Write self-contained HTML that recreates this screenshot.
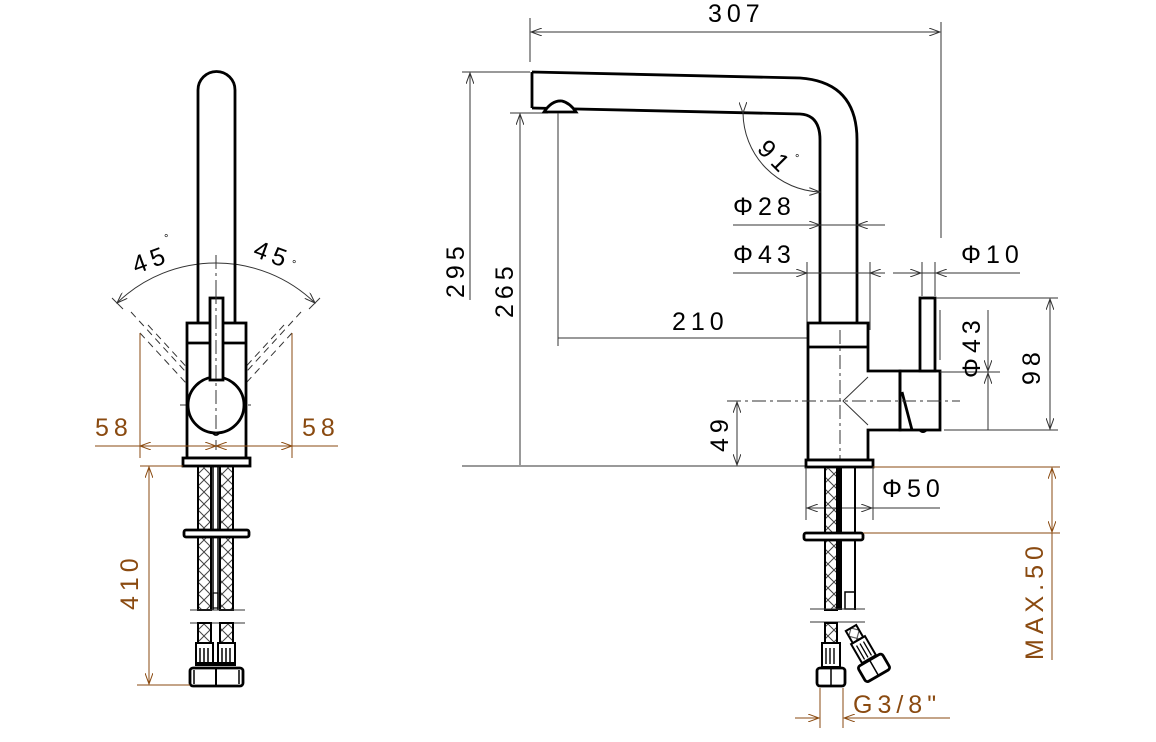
<!DOCTYPE html>
<html><head><meta charset="utf-8"><style>
html,body{margin:0;padding:0;background:#fff;}
svg{display:block;}
text{font-family:"Liberation Sans",sans-serif;font-size:25px;letter-spacing:5px;}
.k{stroke:#000;stroke-width:2.8;fill:none;}
.kf{stroke:#000;stroke-width:2.8;fill:#fff;}
.h{stroke:#000;stroke-width:2;fill:url(#xh);}
.d{stroke:#333;stroke-width:1;fill:none;}
.b{stroke:#8a4a10;stroke-width:1;fill:none;}
.c{stroke:#333;stroke-width:1;fill:none;stroke-dasharray:14 4 3 4;}
.dash{stroke:#333;stroke-width:1;fill:none;stroke-dasharray:7 5;}
.bt{fill:#8a4a10;}
</style></head><body>
<svg width="1156" height="742" viewBox="0 0 1156 742" xmlns="http://www.w3.org/2000/svg">
<defs>
<pattern id="xh" width="12" height="12" patternUnits="userSpaceOnUse">
<path d="M0,0L12,12M12,0L0,12" stroke="#444" stroke-width="1"/>
</pattern>
<marker id="a" markerWidth="12" markerHeight="8" refX="11" refY="4" orient="auto" markerUnits="userSpaceOnUse"><path d="M0,0L11,4L0,8" fill="none" stroke="#333" stroke-width="1"/></marker>
<marker id="ab" markerWidth="12" markerHeight="8" refX="11" refY="4" orient="auto" markerUnits="userSpaceOnUse"><path d="M0,0L11,4L0,8" fill="none" stroke="#8a4a10" stroke-width="1"/></marker>
</defs>

<!-- ========== LEFT VIEW ========== -->
<path d="M216,263 A142,142 0 0 0 117,303" class="d" marker-end="url(#a)"/>
<path d="M216,263 A142,142 0 0 1 315,303" class="d" marker-end="url(#a)"/>
<line x1="112" y1="298" x2="123" y2="309" class="d"/>
<line x1="320" y1="298" x2="309" y2="309" class="d"/>
<line x1="216" y1="255" x2="216" y2="450" class="c"/>
<line x1="180" y1="405" x2="255" y2="405" class="c"/>
<line x1="131" y1="312" x2="216" y2="405" class="dash"/>
<line x1="301" y1="312" x2="216" y2="405" class="dash"/>
<path d="M148,325 L192,373 M140,333 L186,383 M284,325 L240,373 M292,333 L246,383" class="dash"/>
<path d="M198,323 L198,90 A18.5,18.5 0 0 1 235,90 L235,323" class="k"/>
<rect x="187" y="323" width="59" height="135" class="kf"/>
<line x1="187" y1="343" x2="246" y2="343" class="k"/>
<circle cx="216" cy="405" r="28" class="kf"/>
<path d="M211,432 Q216,440 221,432Z" fill="#000"/>
<rect x="210" y="298" width="13" height="82" class="kf"/>
<line x1="216" y1="290" x2="216" y2="450" class="c"/>
<rect x="183" y="458" width="67" height="8" class="kf"/>
<rect x="198" y="466" width="13" height="144" class="h"/>
<rect x="220" y="466" width="13" height="144" class="h"/>
<line x1="213" y1="466" x2="213" y2="610" class="k" style="stroke-width:1.5"/>
<line x1="218" y1="466" x2="218" y2="610" class="k" style="stroke-width:1.5"/>
<rect x="213" y="593" width="5" height="15" class="k" style="stroke-width:1.2"/>
<rect x="184" y="530" width="65" height="7" rx="2" class="kf"/>
<line x1="190" y1="610" x2="245" y2="610" class="d"/>
<line x1="190" y1="623" x2="245" y2="623" class="d"/>
<rect x="198" y="623" width="13" height="20" class="h"/>
<rect x="220" y="623" width="13" height="20" class="h"/>
<rect x="196" y="643" width="17" height="22" class="k" style="stroke-width:2"/>
<rect x="218" y="643" width="17" height="22" class="k" style="stroke-width:2"/>
<path d="M200,648V662M204,648V662M208,648V662M222,648V662M226,648V662M230,648V662" class="k" style="stroke-width:1.5"/>
<line x1="196" y1="664" x2="235" y2="664" class="k" style="stroke-width:4"/>
<rect x="190" y="668" width="53" height="18" rx="3" class="kf"/>
<line x1="216" y1="668" x2="216" y2="686" class="k" style="stroke-width:2"/>
<line x1="194" y1="670" x2="194" y2="684" class="k" style="stroke-width:1.5"/>
<line x1="239" y1="670" x2="239" y2="684" class="k" style="stroke-width:1.5"/>
<line x1="95" y1="446" x2="338" y2="446" class="b"/>
<line x1="216" y1="446" x2="140" y2="446" class="b" marker-end="url(#ab)"/>
<line x1="216" y1="446" x2="292" y2="446" class="b" marker-end="url(#ab)"/>
<line x1="140" y1="446" x2="216" y2="446" class="b" marker-end="url(#ab)"/>
<line x1="292" y1="446" x2="216" y2="446" class="b" marker-end="url(#ab)"/>
<line x1="140" y1="333" x2="140" y2="458" class="b"/>
<line x1="292" y1="333" x2="292" y2="458" class="b"/>
<text x="95" y="436" class="bt">58</text>
<text x="302" y="436" class="bt">58</text>
<line x1="140" y1="466" x2="183" y2="466" class="b"/>
<line x1="137" y1="685" x2="190" y2="685" class="b"/>
<line x1="149" y1="576" x2="149" y2="467" class="b" marker-end="url(#ab)"/>
<line x1="149" y1="576" x2="149" y2="684" class="b" marker-end="url(#ab)"/>
<text transform="translate(138,610) rotate(-90)" class="bt">410</text>
<text transform="translate(136,274) rotate(-20)">45</text>
<text x="164" y="242" style="font-size:11px">°</text>
<text transform="translate(252,256) rotate(20)">45</text>
<text x="292" y="268" style="font-size:11px">°</text>

<!-- ========== RIGHT VIEW ========== -->
<line x1="530" y1="18" x2="530" y2="62" class="d"/>
<line x1="941" y1="22" x2="941" y2="238" class="d"/>
<line x1="735" y1="32" x2="531" y2="32" class="d" marker-end="url(#a)"/>
<line x1="735" y1="32" x2="940" y2="32" class="d" marker-end="url(#a)"/>
<text x="708" y="22">307</text>
<line x1="462" y1="72" x2="530" y2="72" class="d"/>
<line x1="470" y1="300" x2="470" y2="73" class="d" marker-end="url(#a)"/>
<line x1="462" y1="466" x2="808" y2="466" class="d"/>
<text transform="translate(464,298) rotate(-90)">295</text>
<line x1="510" y1="113" x2="548" y2="113" class="d"/>
<line x1="520" y1="300" x2="520" y2="114" class="d" marker-end="url(#a)"/>
<line x1="520" y1="300" x2="520" y2="465" class="d"/>
<text transform="translate(513,318) rotate(-90)">265</text>
<path d="M532,72 L800,78 Q857,82 857,140 L857,323" class="k"/>
<path d="M532,108 L800,114 Q820,115 820,140 L820,323" class="k"/>
<line x1="532" y1="72" x2="532" y2="108" class="k"/>
<path d="M544,112 Q552,100 562,101 Q570,103 576,112 Z" class="kf"/>
<line x1="558" y1="113" x2="558" y2="346" class="d"/>
<line x1="558" y1="338" x2="838" y2="338" class="d" marker-end="url(#a)"/>
<text x="672" y="330">210</text>
<path d="M743,113 A80,80 0 0 0 820,192" class="d" marker-start="url(#a)" marker-end="url(#a)"/>
<text transform="translate(756,150) rotate(45)">91</text>
<text x="795" y="162" style="font-size:11px">°</text>
<line x1="733" y1="225" x2="885" y2="225" class="d"/>
<line x1="800" y1="225" x2="820" y2="225" class="d" marker-end="url(#a)"/>
<line x1="877" y1="225" x2="857" y2="225" class="d" marker-end="url(#a)"/>
<text x="733" y="215">Φ28</text>
<line x1="733" y1="273" x2="880" y2="273" class="d"/>
<line x1="807" y1="262" x2="807" y2="330" class="d"/>
<line x1="870" y1="262" x2="870" y2="330" class="d"/>
<line x1="790" y1="273" x2="807" y2="273" class="d" marker-end="url(#a)"/>
<line x1="885" y1="273" x2="870" y2="273" class="d" marker-end="url(#a)"/>
<text x="733" y="263">Φ43</text>
<line x1="893" y1="273" x2="1020" y2="273" class="d"/>
<line x1="905" y1="273" x2="921" y2="273" class="d" marker-end="url(#a)"/>
<line x1="950" y1="273" x2="936" y2="273" class="d" marker-end="url(#a)"/>
<line x1="922" y1="262" x2="922" y2="296" class="d"/>
<line x1="935" y1="262" x2="935" y2="296" class="d"/>
<text x="961" y="263">Φ10</text>
<path d="M808,323 H868 V371 H900 V430 H868 V460 H808 Z" class="kf"/>
<line x1="808" y1="347" x2="868" y2="347" class="k"/>
<rect x="900" y="371" width="40" height="59" class="kf"/>
<path d="M900,371 L900,430 M902,392 L912,430" class="k"/>
<path d="M918,430 Q923,436 928,430Z" fill="#000"/>
<path d="M868,377 L843,401 L868,425" class="d"/>
<rect x="920" y="298" width="15" height="73" class="kf"/>
<line x1="840" y1="330" x2="840" y2="500" class="c"/>
<line x1="727" y1="401" x2="960" y2="401" class="c"/>
<line x1="940" y1="372" x2="1000" y2="372" class="d"/>
<line x1="988" y1="310" x2="988" y2="371" class="d" marker-end="url(#a)"/>
<line x1="988" y1="430" x2="988" y2="373" class="d" marker-end="url(#a)"/>
<line x1="940" y1="310" x2="940" y2="360" class="d"/>
<text transform="translate(980,378) rotate(-90)">Φ43</text>
<line x1="936" y1="298" x2="1058" y2="298" class="d"/>
<line x1="944" y1="430" x2="1058" y2="430" class="d"/>
<line x1="1050" y1="364" x2="1050" y2="299" class="d" marker-end="url(#a)"/>
<line x1="1050" y1="364" x2="1050" y2="429" class="d" marker-end="url(#a)"/>
<text transform="translate(1040,385) rotate(-90)">98</text>
<line x1="737" y1="433" x2="737" y2="402" class="d" marker-end="url(#a)"/>
<line x1="737" y1="433" x2="737" y2="465" class="d" marker-end="url(#a)"/>
<text transform="translate(728,452) rotate(-90)">49</text>
<rect x="806" y="460" width="67" height="7" class="kf"/>
<line x1="806" y1="467" x2="806" y2="520" class="d"/>
<line x1="873" y1="467" x2="873" y2="520" class="d"/>
<line x1="806" y1="508" x2="940" y2="508" class="d"/>
<line x1="822" y1="508" x2="807" y2="508" class="d" marker-end="url(#a)"/>
<line x1="858" y1="508" x2="872" y2="508" class="d" marker-end="url(#a)"/>
<text x="882" y="497">Φ50</text>
<rect x="825" y="467" width="12" height="143" class="h"/>
<line x1="840" y1="467" x2="840" y2="610" stroke="#000" stroke-width="4"/>
<line x1="855" y1="467" x2="855" y2="610" class="k" style="stroke-width:2"/>
<rect x="845" y="592" width="10" height="17" class="k" style="stroke-width:1.5"/>
<rect x="804" y="533" width="59" height="7" rx="2" class="kf"/>
<line x1="873" y1="467" x2="1060" y2="467" class="b"/>
<line x1="863" y1="533" x2="1060" y2="533" class="b"/>
<line x1="1052" y1="500" x2="1052" y2="468" class="b" marker-end="url(#ab)"/>
<line x1="1052" y1="500" x2="1052" y2="532" class="b" marker-end="url(#ab)"/>
<line x1="1052" y1="533" x2="1052" y2="660" class="b"/>
<text transform="translate(1043,660) rotate(-90)" class="bt">MAX.50</text>
<line x1="810" y1="609" x2="865" y2="609" class="d"/>
<line x1="810" y1="622" x2="865" y2="622" class="d"/>
<rect x="825" y="623" width="12" height="20" class="h"/>
<rect x="822" y="643" width="18" height="24" class="k" style="stroke-width:2"/>
<path d="M826,648V664M830,648V664M834,648V664" class="k" style="stroke-width:1.4"/>
<rect x="817" y="668" width="28" height="18" rx="3" class="kf"/>
<line x1="831" y1="668" x2="831" y2="686" class="k" style="stroke-width:1.5"/>
<g transform="translate(851,628) rotate(-30)">
<rect x="-6" y="0" width="12" height="14" class="h"/>
<rect x="-8" y="14" width="16" height="22" class="k" style="stroke-width:2"/>
<path d="M-4,18V34M0,18V34M4,18V34" class="k" style="stroke-width:1.3"/>
<rect x="-14" y="37" width="28" height="18" rx="3" class="kf"/>
<line x1="0" y1="37" x2="0" y2="55" class="k" style="stroke-width:1.5"/>
</g>
<line x1="820" y1="688" x2="820" y2="728" class="b"/>
<line x1="843" y1="688" x2="843" y2="728" class="b"/>
<line x1="795" y1="718" x2="819" y2="718" class="b" marker-end="url(#ab)"/>
<line x1="950" y1="718" x2="844" y2="718" class="b" marker-end="url(#ab)"/>
<text x="853" y="713" class="bt">G3/8"</text>
</svg>
</body></html>
